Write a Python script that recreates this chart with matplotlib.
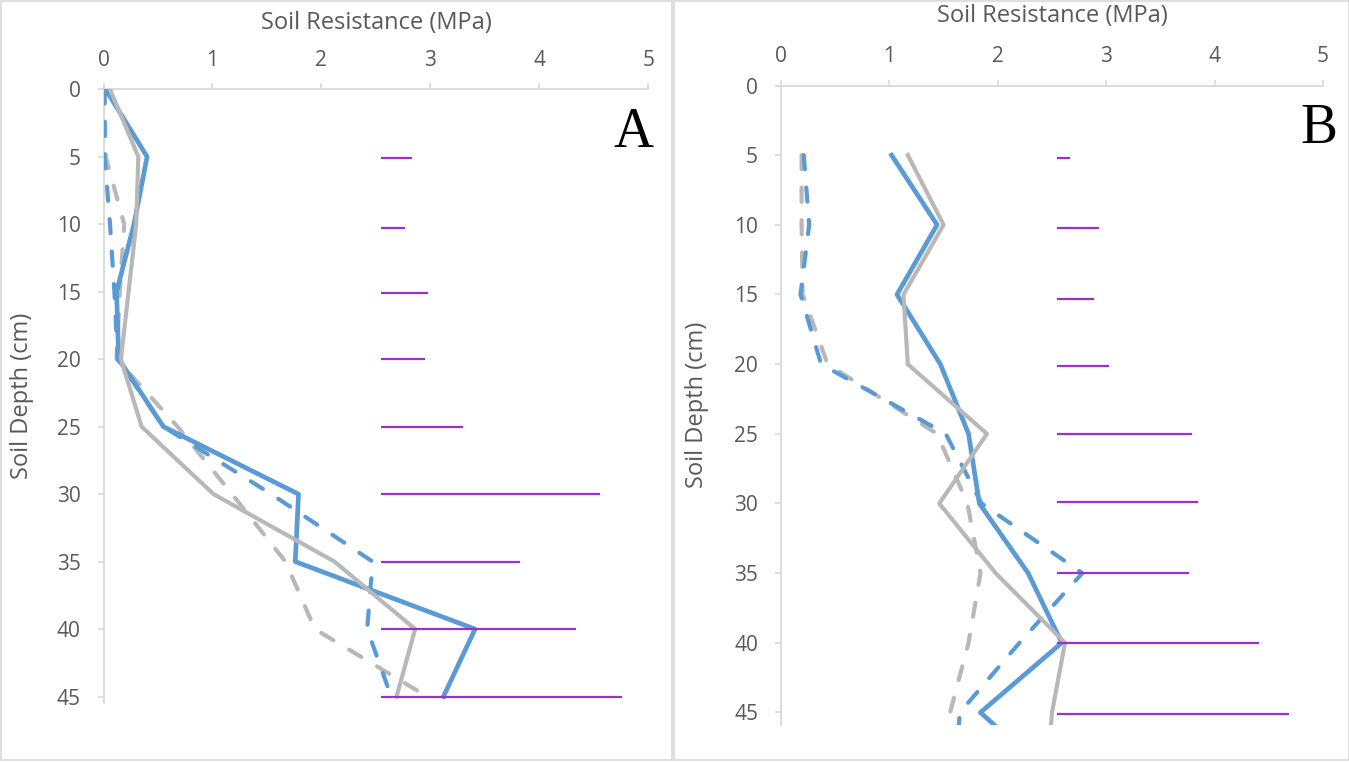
import matplotlib
matplotlib.use("Agg")
import matplotlib.pyplot as plt
from matplotlib.patches import Rectangle

# ---------------- data ----------------
depth_a = [0, 5, 10, 15, 20, 25, 30, 35, 40, 45]
a_blue_solid = [0.02, 0.40, 0.28, 0.12, 0.14, 0.55, 1.79, 1.76, 3.41, 3.12]
a_gray_solid = [0.06, 0.32, 0.30, 0.23, 0.16, 0.35, 1.01, 2.12, 2.86, 2.69]
a_blue_dash = [0.01, 0.01, 0.06, 0.10, 0.13, 0.55, 1.54, 2.47, 2.42, 2.64]
a_gray_dash = [0.01, 0.02, 0.19, 0.15, 0.12, 0.68, 1.18, 1.67, 1.94, 2.97]
a_bar_depth = [5.1, 10.3, 15.1, 20.0, 25.0, 30.0, 35.0, 40.0, 45.0]
a_bar_start = [2.55] * 9
a_bar_end = [2.83, 2.77, 2.98, 2.95, 3.30, 4.56, 3.82, 4.34, 4.76]

depth_b = [5, 10, 15, 20, 25, 30, 35, 40, 45, 50]
b_blue_solid = [1.02, 1.44, 1.07, 1.47, 1.73, 1.83, 2.28, 2.59, 1.84, 2.55]
b_gray_solid = [1.17, 1.50, 1.13, 1.17, 1.90, 1.46, 1.98, 2.62, 2.50, 2.45]
b_blue_dash = [0.21, 0.26, 0.18, 0.37, 1.52, 1.85, 2.78, 2.20, 1.65, 1.60]
b_gray_dash = [0.19, 0.19, 0.20, 0.43, 1.44, 1.72, 1.84, 1.73, 1.56, 1.45]
b_bar_depth = [5.2, 10.2, 15.3, 20.1, 25.0, 29.9, 35.0, 40.0, 45.1]
b_bar_start = [2.55] * 9
b_bar_end = [2.67, 2.93, 2.89, 3.03, 3.79, 3.85, 3.76, 4.41, 4.69]

x_ticks = [0, 1, 2, 3, 4, 5]
y_ticks = [0, 5, 10, 15, 20, 25, 30, 35, 40, 45]
x_title = "Soil Resistance (MPa)"
y_title = "Soil Depth (cm)"
panel_labels = ["A", "B"]

# ---------------- style ----------------
W, H = 1349, 763
BLUE = "#5B9BD5"
GRAY = "#B8B8B8"
PURPLE = "#9A30D0"
AXC = "#D9D9D9"
TXT = "#595959"
FONT = "Open Sans"

fig = plt.figure(figsize=(W / 100, H / 100), dpi=100)


def px_axes(x0, x1, ytop, ybot):
    return fig.add_axes([x0 / W, 1 - ybot / H, (x1 - x0) / W, (ybot - ytop) / H])


def style_axes(ax, ymax, ylab_x):
    ax.set_xlim(0, 5)
    ax.set_ylim(ymax, 0)
    ax.xaxis.tick_top()
    ax.xaxis.set_label_position("top")
    ax.set_xticks(x_ticks)
    ax.set_yticks(y_ticks)
    for s in ["right", "bottom"]:
        ax.spines[s].set_visible(False)
    for s in ["left", "top"]:
        ax.spines[s].set_color(AXC)
        ax.spines[s].set_linewidth(1.3)
    ax.tick_params(axis="both", direction="out", length=4.5, width=1.2,
                   color=AXC, labelcolor=TXT, labelsize=15)
    ax.tick_params(axis="x", pad=9)
    ax.tick_params(axis="y", pad=12)
    for lab in ax.get_xticklabels() + ax.get_yticklabels():
        lab.set_fontfamily(FONT)
    ax.set_xlabel(x_title, fontsize=17, color=TXT, fontfamily=FONT)
    ax.set_ylabel(y_title, fontsize=17, color=TXT, fontfamily=FONT)
    ax.xaxis.set_label_coords(0.5, 1.108)
    ax.xaxis.label.set_va("center")
    ax.yaxis.set_label_coords(ylab_x, 0.5)
    ax.yaxis.label.set_va("center")
    ax.set_facecolor("none")


def draw(ax, depth, bs, gs, bd, gd, bar_d, bar_s, bar_e):
    dash = (0, (3.4, 4.4))
    ax.plot(gd, depth, color=GRAY, lw=3.0, ls=dash, dash_capstyle="round", zorder=2)
    ax.plot(bd, depth, color=BLUE, lw=3.0, ls=dash, dash_capstyle="round", zorder=3)
    ax.plot(bs, depth, color=BLUE, lw=3.4, zorder=4)
    ax.plot(gs, depth, color=GRAY, lw=3.0, zorder=5)
    ax.hlines(bar_d, bar_s, bar_e, color=PURPLE, lw=1.6, zorder=6)


axA = px_axes(103.5, 648.3, 89.3, 703.3)
style_axes(axA, 45.5, -0.149)
draw(axA, depth_a, a_blue_solid, a_gray_solid, a_blue_dash, a_gray_dash,
     a_bar_depth, a_bar_start, a_bar_end)

axB = px_axes(781.0, 1323.0, 85.5, 725.0)
style_axes(axB, 45.9, -0.155)
draw(axB, depth_b, b_blue_solid, b_gray_solid, b_blue_dash, b_gray_dash,
     b_bar_depth, b_bar_start, b_bar_end)

# panel letters
fig.text(633.5 / W, 1 - 147 / H, panel_labels[0], fontsize=40,
         fontfamily="Liberation Serif", ha="center", va="baseline", color="black")
fig.text(1318.5 / W, 1 - 143 / H, panel_labels[1], fontsize=40,
         fontfamily="Liberation Serif", ha="center", va="baseline", color="black")

# chart area borders
for (x0, x1) in [(0.5, 672.0), (674.0, 1348.5)]:
    fig.add_artist(Rectangle((x0 / W, 1 - 760 / H), (x1 - x0) / W, (760 - 0.5) / H,
                             transform=fig.transFigure, fill=False,
                             edgecolor=AXC, lw=1.2))

fig.savefig("out.png", dpi=100)
